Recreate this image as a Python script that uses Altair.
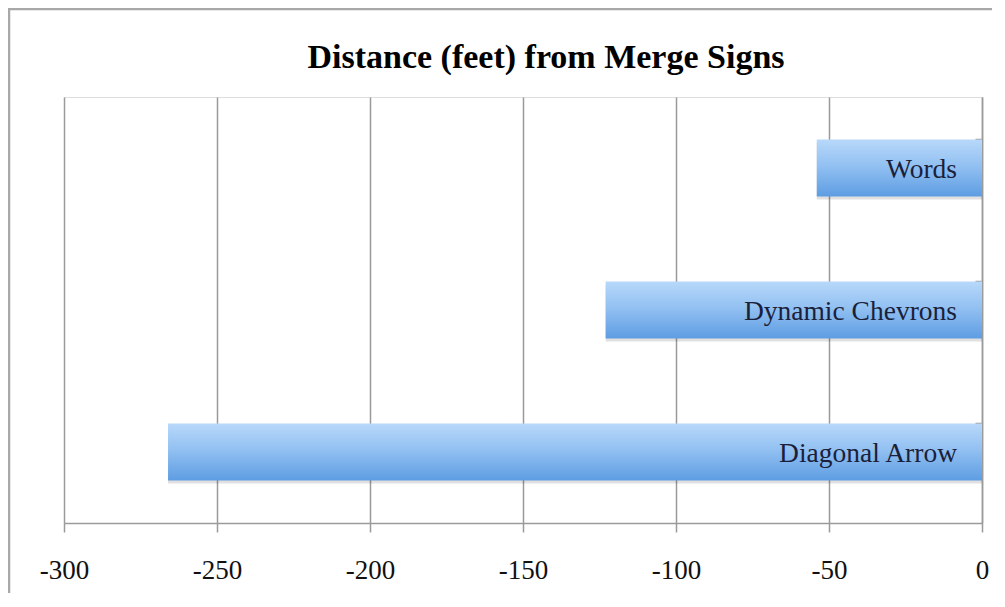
import altair as alt
import pandas as pd

categories = ["Words", "Dynamic Chevrons", "Diagonal Arrow"]
distances = [-54, -123, -266]
x_ticks = [-300, -250, -200, -150, -100, -50, 0]
title_text = "Distance (feet) from Merge Signs"

df = pd.DataFrame({"sign": categories, "distance": distances})

SERIF = "Liberation Serif"
GRAY = "#9a9a9a"

x_enc = alt.X(
    "distance:Q",
    scale=alt.Scale(domain=[-300, 0], nice=False, zero=False),
    axis=alt.Axis(
        values=x_ticks, title=None, grid=True, gridColor=GRAY, gridWidth=1.5,
        domainColor=GRAY, domainWidth=1.5, tickColor=GRAY, tickWidth=1.5,
        tickSize=9, labelFont=SERIF, labelFontSize=27, labelColor="#111111",
        labelPadding=25, labelExpr="'' + datum.value", labelFlush=False,
    ),
)
y_enc = alt.Y(
    "sign:N", sort=categories,
    scale=alt.Scale(paddingInner=0.6, paddingOuter=0.3),
    axis=alt.Axis(
        orient="left", offset=-918, labels=False, title=None, grid=False,
        domainColor=GRAY, domainWidth=1.5, tickColor=GRAY, tickWidth=1.5,
        tickSize=7, bandPosition=0,
    ),
)

gradient = alt.LinearGradient(
    gradient="linear",
    stops=[
        alt.GradientStop(color="#b8d8fa", offset=0),
        alt.GradientStop(color="#93c1f2", offset=0.45),
        alt.GradientStop(color="#5e9de3", offset=1),
    ],
    x1=0, x2=0, y1=0, y2=1,
)

base = alt.Chart(df)

shadow = base.mark_bar(color="#000000", opacity=0.12, yOffset=3).encode(
    x=x_enc, x2=alt.datum(0), y=y_enc
)
bars = base.mark_bar(color=gradient).encode(x=x_enc, x2=alt.datum(0), y=y_enc)
labels = base.mark_text(
    align="right", baseline="middle", dx=-25, dy=2, font=SERIF, fontSize=27.5, color="#1b1f3a"
).encode(x=alt.datum(0), y=alt.Y("sign:N", sort=categories), text="sign:N")

single = pd.DataFrame({"t": [title_text]})
title = alt.Chart(single).mark_text(
    align="center", baseline="middle", font=SERIF, fontSize=34, fontWeight="bold", color="#000000"
).encode(x=alt.value(482), y=alt.value(-39), text="t:N")

frame_left = alt.Chart(single).mark_rule(color="#a8a8a8", strokeWidth=2.5).encode(
    x=alt.value(-55), y=alt.value(-89), y2=alt.value(520)
)
frame_top = alt.Chart(single).mark_rule(color="#a8a8a8", strokeWidth=2.5).encode(
    x=alt.value(-56), x2=alt.value(928), y=alt.value(-88)
)

chart = alt.layer(shadow, bars, labels, title, frame_left, frame_top).properties(
    width=918,
    height=426,
    autosize=alt.AutoSizeParams(type="none"),
    padding={"left": 56, "top": 89, "right": 10, "bottom": 70},
).configure_view(stroke=None).configure(background="white")

chart.save("out.html", embed_options={"renderer": "svg", "actions": False})
